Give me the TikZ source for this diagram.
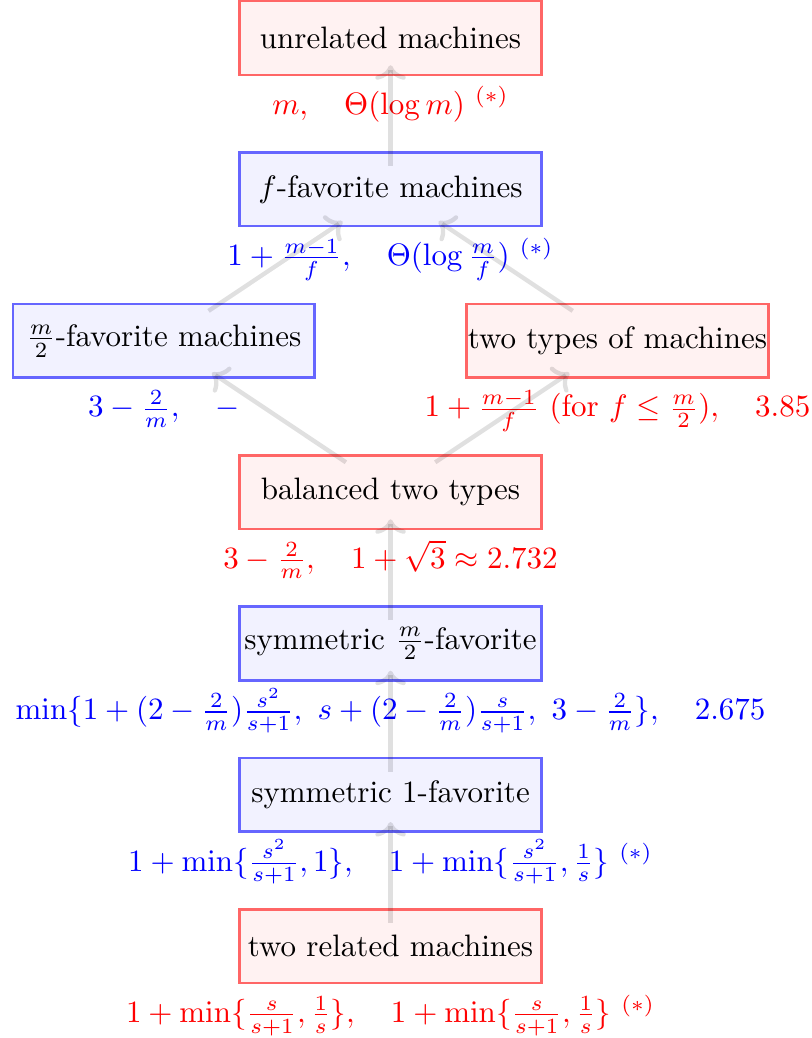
\documentclass[tikz,border=0pt]{standalone}
\usepackage{amsmath}
\usepackage{amssymb}
\usetikzlibrary{
    arrows.meta,
    positioning,
    calc
}
\tikzset{
    % --- Machine model box (red family) ---
    red box/.style = {
        rectangle, draw=red!60, fill=red!5, thick,
        minimum width=3.42cm, minimum height=0.835cm,
        inner xsep=0pt, align=center
    },
    % --- Machine model box (blue family) ---
    blue box/.style = {
        red box, draw=blue!60, fill=blue!5
    },
    % --- Bound label under a box ---
    red bound/.style = {
        text=red, inner sep=0pt
    },
    blue bound/.style = {
        text=blue, inner sep=0pt
    },
    % --- Reduction arrow between models ---
    reduce arrow/.style = {
        ->, line width=1.4pt, draw=black, draw opacity=0.12,
        shorten >=-3.5pt, shorten <=-4.8pt
    }
}

\begin{document}
\begin{tikzpicture}

\useasboundingbox (0,0) rectangle (9.206,-11.769);

% ---------------------------------------------------------
% Models
% ---------------------------------------------------------
\node[red box] (Unrel) at (4.428, -0.431) {unrelated machines};
\node[blue box, below=0.853cm of Unrel] (FFav) {$f$-favorite machines};
\node[blue box, below=0.853cm of FFav, xshift=-2.57cm] (HalfFav) {$\frac{m}{2}$-favorite machines};
\node[red box, below=0.853cm of FFav, xshift=2.573cm] (TwoTypes) {two types of machines};
\node[red box, below=0.853cm of HalfFav, xshift=2.57cm] (Balanced) {balanced two types};
\node[blue box, below=0.853cm of Balanced] (SymHalf) {symmetric $\frac{m}{2}$-favorite};
\node[blue box, below=0.853cm of SymHalf] (SymOne) {symmetric 1-favorite};
\node[red box, below=0.853cm of SymOne] (TwoRel) {two related machines};

% ---------------------------------------------------------
% Bounds
% ---------------------------------------------------------
\node[red bound, anchor=base] (UnrelB) at ([yshift=-12.3pt]Unrel.south)
    {$m, \quad \Theta(\log m)\ {}^{(*)}$};
\node[blue bound, anchor=base] (FFavB) at ([yshift=-12.3pt]FFav.south)
    {$1+\frac{m-1}{f}, \quad \Theta(\log\frac{m}{f})\ {}^{(*)}$};
\node[blue bound, anchor=base] (HalfFavB) at ([yshift=-12.3pt]HalfFav.south)
    {$3-\frac{2}{m}, \quad -$};
\node[red bound, anchor=base] (TwoTypesB) at ([yshift=-12.3pt]TwoTypes.south)
    {$1+\frac{m-1}{f}\ (\text{for } f\leq\frac{m}{2}), \quad 3.85$};
\node[red bound, anchor=base] (BalancedB) at ([yshift=-12.3pt]Balanced.south)
    {$3-\frac{2}{m}, \quad 1+\sqrt{3}\approx 2.732$};
\node[blue bound, anchor=base] (SymHalfB) at ([yshift=-12.3pt]SymHalf.south)
    {$\min\{1+(2-\frac{2}{m})\frac{s^2}{s+1},\ s+(2-\frac{2}{m})\frac{s}{s+1},\ 3-\frac{2}{m}\}, \quad 2.675$};
\node[blue bound, anchor=base] (SymOneB) at ([yshift=-12.3pt]SymOne.south)
    {$1+\min\{\frac{s^2}{s+1},1\}, \quad 1+\min\{\frac{s^2}{s+1},\frac{1}{s}\}\ {}^{(*)}$};
\node[red bound, anchor=base] (TwoRelB) at ([yshift=-12.3pt]TwoRel.south)
    {$1+\min\{\frac{s}{s+1},\frac{1}{s}\}, \quad 1+\min\{\frac{s}{s+1},\frac{1}{s}\}\ {}^{(*)}$};

% ---------------------------------------------------------
% Reductions
% ---------------------------------------------------------
\draw[reduce arrow] (TwoRel) -- (SymOne);
\draw[reduce arrow] (SymOne) -- (SymHalf);
\draw[reduce arrow] (SymHalf) -- (Balanced);
\draw[reduce arrow] (Balanced) -- (HalfFav);
\draw[reduce arrow] (Balanced) -- (TwoTypes);
\draw[reduce arrow] (HalfFav) -- (FFav);
\draw[reduce arrow] (TwoTypes) -- (FFav);
\draw[reduce arrow] (FFav) -- (Unrel);

\end{tikzpicture}
\end{document}
